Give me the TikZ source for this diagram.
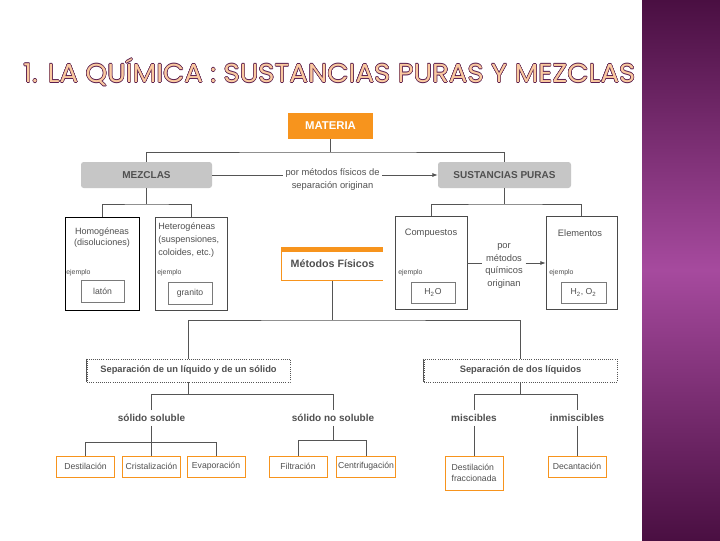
\documentclass[tikz,border=0pt]{standalone}
\usepackage{fontspec}
\usepackage{graphicx}
\setmainfont{Liberation Sans}
\newfontfamily\titlefont{Poppins}
\usetikzlibrary{arrows.meta}
\definecolor{linec}{HTML}{555555}
\definecolor{txt}{HTML}{505050}
\definecolor{orangec}{HTML}{F7941D}
\definecolor{grayf}{HTML}{C6C6C6}
\definecolor{framec}{HTML}{4A4A4A}
\definecolor{innerc}{HTML}{7A7A7A}
\definecolor{tpeach}{HTML}{FAC9A0}
\definecolor{tdark}{HTML}{5B1F4E}
\definecolor{pdark}{HTML}{4A0F42}
\definecolor{pmid}{HTML}{A64A9E}
\newcommand\ttlline[1]{\resizebox{459pt}{\height}{\color{#1}\titlefont\fontsize{19.5pt}{20pt}\selectfont 1. LA QUÍMICA : SUSTANCIAS PURAS Y MEZCLAS}}
\tikzset{
 ln/.style={draw=linec, line width=0.6pt},
 graybox/.style={fill=grayf, rounded corners=2pt, minimum height=19.5pt, font=\bfseries\fontsize{7.5}{9}\selectfont, text=txt},
 panel/.style={draw=framec, line width=0.5pt, minimum height=69.75pt},
 exbox/.style={draw=innerc, line width=0.4pt, minimum height=16.5pt, font=\fontsize{6.5}{8}\selectfont, text=txt, inner sep=1pt},
 ej/.style={font=\fontsize{5.2}{6}\selectfont, text=txt, anchor=west, inner sep=0pt},
 lbl/.style={font=\bfseries\fontsize{7.5}{9}\selectfont, text=txt, inner sep=3pt},
 leaf/.style={draw=orangec, line width=0.7pt, minimum width=43.5pt, minimum height=15.75pt, font=\fontsize{6.5}{8}\selectfont, text=txt, inner sep=1pt},
 sepbox/.style={draw=linec, densely dotted, line width=0.6pt, minimum height=17.25pt, font=\bfseries\fontsize{7}{8}\selectfont, text=txt},
 plain/.style={font=\fontsize{7}{9}\selectfont, text=txt},
 arr/.style={ln, -{Latex[length=4pt,width=3pt]}}
}
\begin{document}
\begin{tikzpicture}[x=0.75pt,y=-0.75pt]
\useasboundingbox (0,0) rectangle (720,540);
\fill[white] (0,0) rectangle (720,540);
\shade[top color=pdark, bottom color=pdark, middle color=pmid] (642,0) rectangle (720,540);
% title
\foreach \a in {0,30,...,330}
  \node[anchor=base west, inner sep=0pt, shift={(\a:0.4pt)}] at (23,82.5) {\ttlline{tdark}};
\node[anchor=base west, inner sep=0pt] (title) at (23,82.5) {\ttlline{tpeach}};
% top level
\node[fill=orangec, minimum width=63.75pt, minimum height=19.5pt, font=\bfseries\fontsize{8.5}{10}\selectfont, text=white] (materia) at (330.5,126) {MATERIA};
\node[graybox, minimum width=98.25pt] (mezclas) at (146.5,175) {MEZCLAS};
\node[graybox, minimum width=99.75pt] (sust) at (504.5,175) {SUSTANCIAS PURAS};
\node[plain, align=center, inner sep=2pt, font=\fontsize{7}{9.5}\selectfont] (pm) at (332.5,179.5) {por métodos físicos de\\separación originan};
\coordinate (j1) at (330.5,152);
\draw[ln] (materia.south) -- (j1);
\draw[ln] (mezclas.north) |- (j1) -| (sust.north);
\draw[ln] (mezclas.east) -- (pm.west |- mezclas.east);
\draw[arr] (pm.east |- sust.west) -- (sust.west);
% mezclas
\node[panel, minimum width=55.5pt, draw=black, line width=0.75pt] (homo) at (102,263.5) {};
\node[plain, align=center, font=\fontsize{6.8}{8.3}\selectfont, inner sep=0pt] (homot) at (102,238) {Homogéneas\\(disoluciones)};
\node[panel, minimum width=54pt] (hetero) at (191,263.5) {};
\node[plain, align=left, anchor=north west, inner sep=0pt, font=\fontsize{6.8}{9.75}\selectfont] (hetet) at (158,223) {Heterogéneas\\(suspensiones,\\coloides, etc.)};
\node[ej] (ej1) at (66,273) {ejemplo};
\node[exbox, minimum width=32.25pt] (laton) at (102.5,291.5) {latón};
\node[ej] (ej2) at (157,273) {ejemplo};
\node[exbox, minimum width=33pt] (granito) at (190,293) {granito};
\coordinate (j2) at (146.5,204);
\draw[ln] (mezclas.south) -- (j2);
\draw[ln] (homo.north) |- (j2) -| (hetero.north);
% metodos fisicos
\node[minimum width=75.75pt, minimum height=24.75pt, font=\bfseries\fontsize{8}{10}\selectfont, text=txt] (metodos) at (332.5,264) {Métodos Físicos};
\draw[orangec, line width=3.75pt] ([yshift=-1.875pt]metodos.north west) -- ([yshift=-1.875pt]metodos.north east);
\draw[orangec, line width=0.7pt] (metodos.north west) -- (metodos.south west) -- (metodos.south east);
% sustancias puras
\node[panel, minimum width=54pt] (comp) at (431,263) {};
\node[plain] (compt) at (431,233) {Compuestos};
\node[ej] (ej3) at (398,273) {ejemplo};
\node[exbox, minimum width=33pt, minimum height=15.75pt] (h2o) at (433,292.5) {H\textsubscript{2}O};
\node[panel, minimum width=53.25pt] (elem) at (581.5,263) {};
\node[plain] (elemt) at (580,233) {Elementos};
\node[ej] (ej4) at (549,273) {ejemplo};
\node[exbox, minimum width=33.75pt, minimum height=15.75pt] (h2o2) at (583.5,292.5) {H\textsubscript{2}, O\textsubscript{2}};
\coordinate (j3) at (504.5,204);
\draw[ln] (sust.south) -- (j3);
\draw[ln] (comp.north) |- (j3) -| (elem.north);
\node[plain, align=center, inner sep=2pt, font=\fontsize{7}{9.4}\selectfont] (pq) at (504,266) {por\\métodos\\químicos\\originan};
\draw[ln] (comp.east) -- (pq.west |- comp.east);
\draw[arr] (pq.east |- comp.east) -- (elem.west);
% separation
\node[sepbox, minimum width=152.25pt] (sep1) at (188.5,370.5) {Separación de un líquido y de un sólido};
\node[sepbox, minimum width=144.75pt] (sep2) at (520.5,370.5) {Separación de dos líquidos};
\draw[linec, line width=0.5pt] (sep1.north west) -- (sep1.south west);
\draw[linec, line width=0.5pt] (sep2.north west) -- (sep2.south west);
\coordinate (j4) at (332.5,320);
\draw[ln] (metodos.south) -- (j4);
\draw[ln] (sep1.north) |- (j4) -| (sep2.north);
\node[lbl] (sol) at (151.5,418) {sólido soluble};
\node[lbl] (nosol) at (333,418) {sólido no soluble};
\node[lbl] (misc) at (474,418) {miscibles};
\node[lbl] (inmisc) at (577,418) {inmiscibles};
\coordinate (j5) at (188.5,394);
\draw[ln] (sep1.south) -- (j5);
\draw[ln] (sol.north) |- (j5) -| (nosol.north);
\coordinate (j6) at (520.5,394);
\draw[ln] (sep2.south) -- (j6);
\draw[ln] (misc.north) |- (j6) -| (inmisc.north);
% leaves
\node[leaf] (destil) at (85.5,466.5) {Destilación};
\node[leaf] (crist) at (151.5,466.5) {Cristalización};
\node[leaf] (evap) at (216,466.5) {Evaporación};
\node[leaf] (filt) at (298,466.5) {Filtración};
\node[leaf] (centr) at (366,466.5) {Centrifugación};
\node[leaf, minimum height=25.5pt, align=left] (dfrac) at (474,473) {Destilación\\fraccionada};
\node[leaf] (decant) at (577,466.5) {Decantación};
\coordinate (j7) at (151.5,442);
\draw[ln] (sol.south) -- (crist.north);
\draw[ln] (destil.north) |- (j7) -| (evap.north);
\coordinate (j8) at (333,440);
\draw[ln] (nosol.south) -- (j8);
\draw[ln] (filt.north) |- (j8) -| (centr.north);
\draw[ln] (misc.south) -- (dfrac.north);
\draw[ln] (inmisc.south) -- (decant.north);
\end{tikzpicture}
\end{document}
